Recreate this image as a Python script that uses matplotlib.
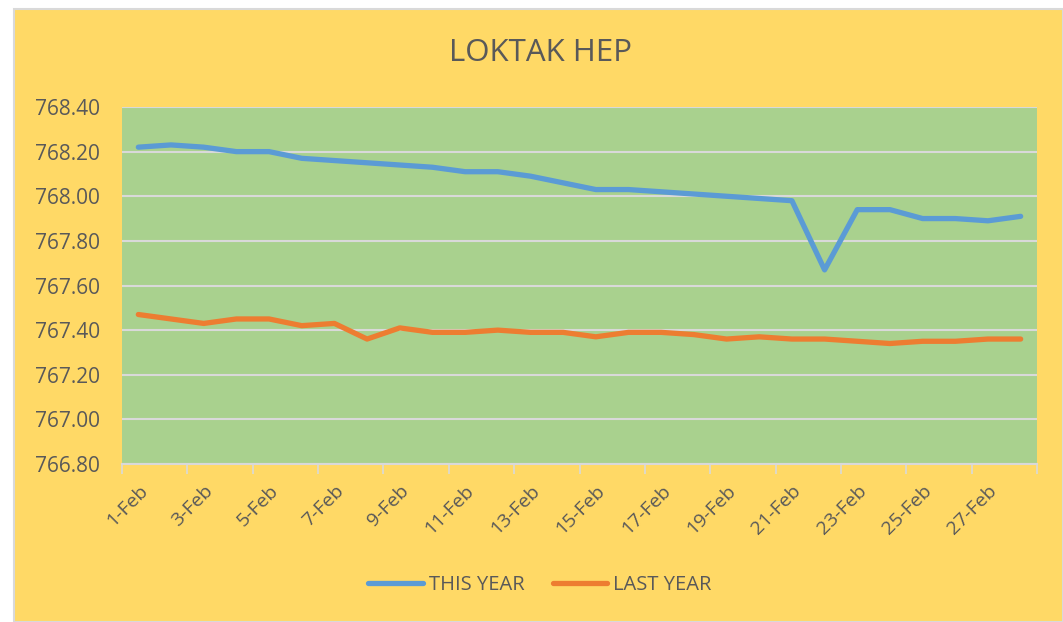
import matplotlib.pyplot as plt
from matplotlib.patches import Rectangle
import numpy as np

days = [str(d) + '-Feb' for d in range(1, 29)]
this_year = [768.22, 768.23, 768.22, 768.20, 768.20, 768.17, 768.16, 768.15, 768.14, 768.13,
             768.11, 768.11, 768.09, 768.06, 768.03, 768.03, 768.02, 768.01, 768.00, 767.99,
             767.98, 767.67, 767.94, 767.94, 767.90, 767.90, 767.89, 767.91]
last_year = [767.47, 767.45, 767.43, 767.45, 767.45, 767.42, 767.43, 767.36, 767.41, 767.39,
             767.39, 767.40, 767.39, 767.39, 767.37, 767.39, 767.39, 767.38, 767.36, 767.37,
             767.36, 767.36, 767.35, 767.34, 767.35, 767.35, 767.36, 767.36]
yticks = [766.80, 767.00, 767.20, 767.40, 767.60, 767.80, 768.00, 768.20, 768.40]

plt.rcParams['font.family'] = ['Open Sans', 'DejaVu Sans']
txt = '#595959'
grid = '#D9D9D9'

fig = plt.figure(figsize=(10.63, 6.22), dpi=100)
fig.patch.set_facecolor('white')
# chart area box
fig.patches.append(Rectangle((14 / 1063, 0), 1 - 14 / 1063, 1 - 9 / 622, transform=fig.transFigure,
                             facecolor='#FFD966', edgecolor=grid, linewidth=1.5, zorder=-10))

ax = fig.add_axes([122 / 1063, 1 - 464 / 622, (1037 - 122) / 1063, (464 - 107) / 622])
ax.set_facecolor('#A9D18E')

x = np.arange(len(days))
ax.plot(x, this_year, color='#5B9BD5', lw=3.8, solid_capstyle='round', label='THIS YEAR', zorder=3)
ax.plot(x, last_year, color='#ED7D31', lw=3.8, solid_capstyle='round', label='LAST YEAR', zorder=3)

ax.set_xlim(-0.5, len(days) - 0.5)
ax.set_ylim(766.80, 768.40)
ax.set_yticks(yticks)
ax.set_yticklabels(['%.2f' % v for v in yticks], fontsize=15, color=txt)
ax.yaxis.grid(True, color=grid, lw=1.5)
ax.set_axisbelow(True)
ax.tick_params(axis='y', length=0, pad=16)

# tick marks at category boundaries, labels at every other category
ax.set_xticks(np.arange(-0.5, len(days), 2))
ax.set_xticklabels([])
ax.tick_params(axis='x', which='major', length=7, color=grid, width=1.2)
ax.set_xticks(x[::2], minor=True)
ax.set_xticklabels(days[::2], minor=True, rotation=45, ha='right', va='top',
                   rotation_mode='anchor', fontsize=14, color=txt)
ax.tick_params(axis='x', which='minor', length=0, pad=13)

for s in ['top', 'right', 'left']:
    ax.spines[s].set_visible(False)
ax.spines['bottom'].set_color(grid)
ax.spines['bottom'].set_linewidth(1.5)

fig.text(0.508, 1 - 53 / 622, 'LOKTAK HEP', ha='center', va='center', fontsize=22.5, color=txt)

leg = fig.legend(loc='center', bbox_to_anchor=(0.508, 1 - 585 / 622), ncol=2, frameon=False,
                 fontsize=14.5, handlelength=2.7, handletextpad=0.3, columnspacing=1.4)
for t in leg.get_texts():
    t.set_color(txt)

plt.savefig('out.png', dpi=100)
